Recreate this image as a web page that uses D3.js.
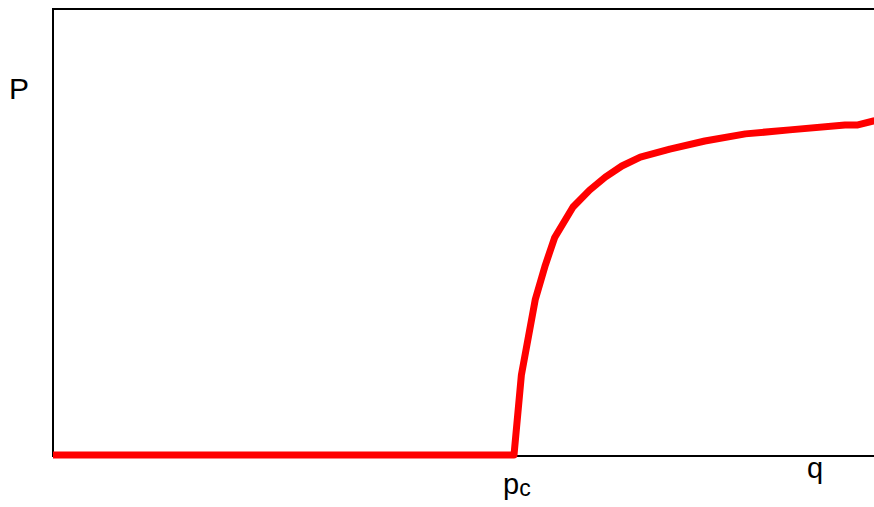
<!DOCTYPE html>
<html>
<head>
<meta charset="utf-8">
<script src="https://cdn.jsdelivr.net/npm/d3@7"></script>
<style>
  html, body { margin: 0; padding: 0; background: #fff; }
  svg { display: block; }
  text { font-family: "Liberation Sans", Arial, sans-serif; fill: #000; }
</style>
</head>
<body>
<svg width="874" height="507"></svg>
<script>
// order parameter P vs occupation q
var qValues = [0, 0.5, 0.508, 0.523, 0.534, 0.544, 0.564, 0.582, 0.599, 0.617, 0.637, 0.669, 0.707, 0.751, 0.799, 0.859, 0.873, 0.89, 0.9];
var pValues = [0, 0, 0.179, 0.348, 0.426, 0.487, 0.556, 0.594, 0.623, 0.648, 0.668, 0.686, 0.704, 0.720, 0.729, 0.740, 0.740, 0.749, 0.752];
var pc = 0.5;

var data = qValues.map(function(q, i) { return {q: q, p: pValues[i]}; });

var svg = d3.select("svg");

// plot box runs past the right edge of the window, as in the picture
var x = d3.scaleLinear().domain([0, 1]).range([53, 975]),
    y = d3.scaleLinear().domain([0, 1]).range([455, 9]);

svg.append("rect")
  .attr("x", x(0))
  .attr("y", y(1))
  .attr("width", x(1) - x(0))
  .attr("height", y(0) - y(1) + 1)
  .attr("fill", "none")
  .attr("stroke", "#000")
  .attr("stroke-width", 2);

var line = d3.line()
  .x(function(d) { return x(d.q); })
  .y(function(d) { return y(d.p); });

svg.append("path")
  .datum(data)
  .attr("d", line)
  .attr("fill", "none")
  .attr("stroke", "#ff0000")
  .attr("stroke-width", 7)
  .attr("stroke-linejoin", "round");

// labels
svg.append("text")
  .attr("x", 9)
  .attr("y", 99)
  .style("font-size", "30px")
  .text("P");

var pcLabel = svg.append("text")
  .attr("x", x(pc) - 11)
  .attr("y", 494)
  .style("font-size", "29px");
pcLabel.append("tspan").text("p");
pcLabel.append("tspan").attr("dy", 2).style("font-size", "23px").text("c");

svg.append("text")
  .attr("x", 807)
  .attr("y", 478)
  .style("font-size", "29px")
  .text("q");
</script>
</body>
</html>
